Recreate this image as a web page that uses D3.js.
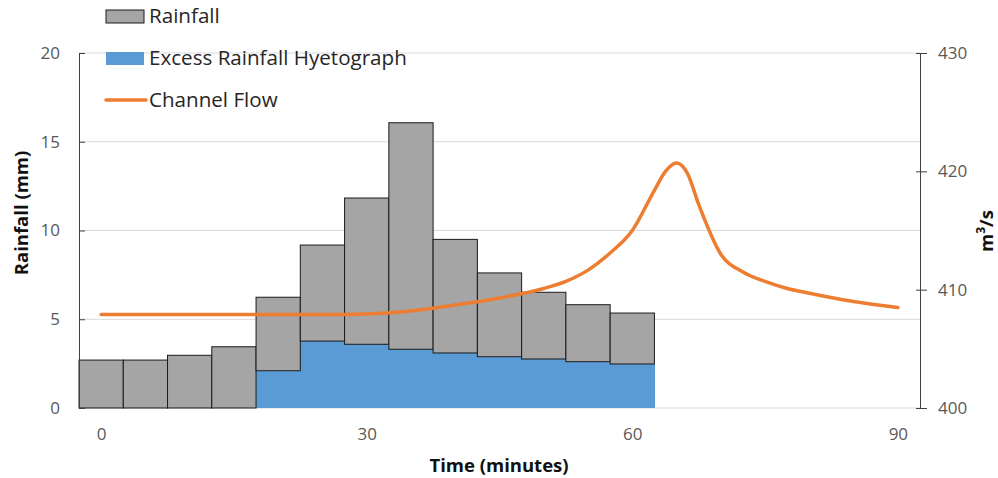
<!DOCTYPE html>
<html><head><meta charset="utf-8">
<script src="https://cdn.jsdelivr.net/npm/d3@7"></script>
<style>
html,body{margin:0;padding:0;background:#fff;}
svg{display:block;font-family:"Open Sans","Segoe UI",sans-serif;}
</style></head>
<body>
<svg id="chart" width="998" height="478"></svg>
<script>
// ---- data ----
const barTimes   = [0,5,10,15,20,25,30,35,40,45,50,55,60];
const rainfall   = [2.70,2.70,2.97,3.45,6.24,9.18,11.83,16.07,9.50,7.61,6.52,5.82,5.35];
const excess     = [0,0,0,0,2.10,3.77,3.59,3.31,3.10,2.89,2.76,2.61,2.48];
const flowTimes  = [0,5,10,15,20,25,30,35,40,45,50,52.5,55,57.5,60,62.5,63.75,65,66.25,67.5,70,72.5,75,77.5,80,85,90];
const flow       = [407.9,407.9,407.9,407.9,407.9,407.9,407.95,408.2,408.7,409.3,410.1,410.7,411.65,413.1,415.0,418.4,420.0,420.7,419.8,417.2,413.0,411.5,410.7,410.1,409.7,409.0,408.5];
const xTicks     = [0,30,60,90];
const leftTicks  = [0,5,10,15,20];
const rightTicks = [400,410,420,430];
const legendItems = ["Rainfall","Excess Rainfall Hyetograph","Channel Flow"];

// ---- layout ----
const svg = d3.select("#chart");
const L = 79, R = 920, T = 53, B = 408;
const x  = d3.scaleLinear().domain([-2.5, 92.5]).range([L, R]);
const yL = d3.scaleLinear().domain([0, 20]).range([B, T]);
const yR = d3.scaleLinear().domain([400, 430]).range([B, T]);
const barW = 5;
const tickCol = "#595959";

// gridlines
svg.append("g").selectAll("line").data(leftTicks.filter(d=>d>0)).join("line")
  .attr("x1", L).attr("x2", R)
  .attr("y1", d=>yL(d)).attr("y2", d=>yL(d))
  .attr("stroke", "#d9d9d9").attr("stroke-width", 1);
// x baseline
svg.append("line").attr("x1", L).attr("x2", R).attr("y1", B).attr("y2", B)
  .attr("stroke", "#d9d9d9").attr("stroke-width", 1);

// excess bars (blue)
svg.append("g").attr("shape-rendering", "crispEdges").selectAll("rect").data(barTimes).join("rect")
  .attr("x", (d)=>x(d - barW/2))
  .attr("width", (d)=>x(d + barW/2) - x(d - barW/2) + 0.6)
  .attr("y", (d,i)=>yL(excess[i]))
  .attr("height", (d,i)=>yL(0) - yL(excess[i]))
  .attr("fill", "#5b9bd5");

// rainfall bars (grey, stacked on excess)
svg.append("g").selectAll("rect").data(barTimes).join("rect")
  .attr("x", (d)=>x(d - barW/2))
  .attr("width", (d)=>x(d + barW/2) - x(d - barW/2))
  .attr("y", (d,i)=>yL(rainfall[i]))
  .attr("height", (d,i)=>yL(excess[i]) - yL(rainfall[i]))
  .attr("fill", "#a5a5a5").attr("stroke", "#1a1a1a").attr("stroke-width", 1);

// channel flow line
const line = d3.line().x((d,i)=>x(flowTimes[i])).y(d=>yR(d)).curve(d3.curveMonotoneX);
svg.append("path").datum(flow).attr("d", line)
  .attr("fill", "none").attr("stroke", "#ed7d31").attr("stroke-width", 3.5)
  .attr("stroke-linecap", "round").attr("stroke-linejoin", "round");

// left axis
const gL = svg.append("g").attr("transform", `translate(${L},0)`)
  .call(d3.axisLeft(yL).tickValues(leftTicks).tickSize(-6).tickPadding(19));
gL.select(".domain").attr("stroke", "#404040");
gL.selectAll(".tick line").attr("stroke", "#404040");
gL.selectAll("text").attr("fill", tickCol).style("font-size", "17px").style("font-family", '"Open Sans",sans-serif');

// right axis
const gR = svg.append("g").attr("transform", `translate(${R},0)`)
  .call(d3.axisRight(yR).tickValues(rightTicks).tickSize(0).tickPadding(18));
gR.select(".domain").attr("stroke", "#404040");
gR.selectAll(".tick").append("line").attr("x1", -4).attr("x2", 7).attr("stroke", "#404040");
gR.selectAll("text").attr("fill", tickCol).style("font-size", "17px").style("font-family", '"Open Sans",sans-serif');

// bottom axis labels
const gB = svg.append("g").attr("transform", `translate(0,${B})`)
  .call(d3.axisBottom(x).tickValues(xTicks).tickSize(0).tickPadding(20).tickFormat(d3.format("d")));
gB.select(".domain").remove();
gB.selectAll("text").attr("fill", tickCol).style("font-size", "17px").style("font-family", '"Open Sans",sans-serif');

// axis titles
svg.append("text").attr("x", 499).attr("y", 472).attr("text-anchor", "middle")
  .style("font-size", "18.5px").style("font-weight", "bold").attr("fill", "#111")
  .text("Time (minutes)");
svg.append("text").attr("transform", "translate(28,213) rotate(-90)").attr("text-anchor", "middle")
  .style("font-size", "18.5px").style("font-weight", "bold").attr("fill", "#111")
  .text("Rainfall (mm)");
const mt = svg.append("text").attr("transform", "translate(993,231) rotate(-90)").attr("text-anchor", "middle")
  .style("font-size", "18.5px").style("font-weight", "bold").attr("fill", "#111");
mt.append("tspan").text("m");
mt.append("tspan").attr("baseline-shift", "super").style("font-size", "12px").text("3");
mt.append("tspan").text("/s");

// legend
const lg = svg.append("g");
const rowY = [16, 58, 100];
lg.append("rect").attr("x", 106).attr("y", 10).attr("width", 38).attr("height", 13)
  .attr("fill", "#a5a5a5").attr("stroke", "#1a1a1a").attr("stroke-width", 1);
lg.append("rect").attr("x", 106).attr("y", 52).attr("width", 38).attr("height", 13)
  .attr("fill", "#5b9bd5");
lg.append("line").attr("x1", 106).attr("x2", 146).attr("y1", 100).attr("y2", 100)
  .attr("stroke", "#ed7d31").attr("stroke-width", 3.5).attr("stroke-linecap", "round");
lg.selectAll("text").data(legendItems).join("text")
  .attr("x", 149).attr("y", (d,i)=>rowY[i]).attr("dy", "0.35em")
  .style("font-size", "20.6px").attr("fill", "#262626").text(d=>d);
</script>
</body></html>
